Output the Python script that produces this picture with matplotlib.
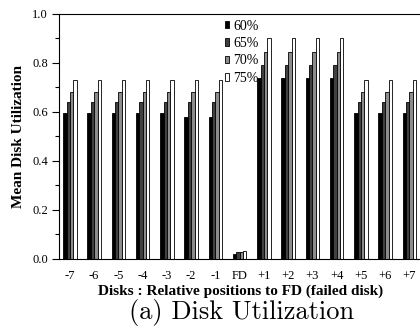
import numpy as np
import matplotlib
matplotlib.use("Agg")
import matplotlib.pyplot as plt

# disk positions relative to the failed disk
positions = ["-7", "-6", "-5", "-4", "-3", "-2", "-1", "FD",
             "+1", "+2", "+3", "+4", "+5", "+6", "+7"]

util_60 = [0.596, 0.596, 0.596, 0.596, 0.596, 0.578, 0.578, 0.022,
           0.739, 0.739, 0.739, 0.739, 0.596, 0.596, 0.596]
util_65 = [0.641, 0.641, 0.641, 0.641, 0.641, 0.641, 0.641, 0.028,
           0.792, 0.792, 0.792, 0.792, 0.641, 0.641, 0.641]
util_70 = [0.682, 0.682, 0.682, 0.682, 0.682, 0.682, 0.682, 0.029,
           0.845, 0.845, 0.845, 0.845, 0.682, 0.682, 0.682]
util_75 = [0.731, 0.731, 0.731, 0.731, 0.731, 0.731, 0.731, 0.034,
           0.902, 0.902, 0.902, 0.902, 0.731, 0.731, 0.731]

yticks = [0.0, 0.2, 0.4, 0.6, 0.8, 1.0]
ytick_labels = ["0.0", "0.2", "0.4", "0.6", "0.8", "1.0"]

series = [("60%", util_60, "black"),
          ("65%", util_65, "#404040"),
          ("70%", util_70, "#8c8c8c"),
          ("75%", util_75, "white")]

serif = "Liberation Serif"

fig = plt.figure(figsize=(4.2, 3.3), dpi=100)
ax = fig.add_axes([0.1405, 0.2152, 0.866, 0.7424])

x = np.arange(len(positions))
w = 0.14
for i, (label, vals, col) in enumerate(series):
    ax.bar(x + (i - 1.5) * w, vals, width=w, color=col, edgecolor="black",
           linewidth=0.6, label=label)

ax.set_xlim(-0.45, 14.55)
ax.set_ylim(0, 1.0)
ax.set_yticks(yticks)
ax.set_yticklabels(ytick_labels, family=serif)
ax.set_yticks([0.1, 0.3, 0.5, 0.7, 0.9], minor=True)
ax.set_xticks(x)
ax.set_xticklabels(positions, family=serif)
ax.tick_params(axis="x", length=0, pad=8, labelsize=9)
ax.tick_params(axis="y", which="major", length=5, width=0.8, labelsize=9,
               pad=3)
ax.tick_params(axis="y", which="minor", length=3, width=0.8)

ax.set_ylabel("Mean Disk Utilization", family=serif,
              fontweight="bold", fontsize=11, labelpad=5)
ax.set_xlabel("Disks : Relative positions to FD (failed disk)",
              family=serif, fontweight="bold", fontsize=11, labelpad=2)

leg = ax.legend(loc="upper left", bbox_to_anchor=(0.44, 1.0), frameon=False,
                handlelength=0.35, handleheight=0.45, handletextpad=0.25,
                labelspacing=0.32, borderaxespad=0,
                prop={"family": serif, "size": 10})

fig.text(0.574, 0.052, "(a) Disk Utilization", family="cmr10", fontsize=19,
         ha="center", va="center")

fig.savefig("out.png", dpi=100)
